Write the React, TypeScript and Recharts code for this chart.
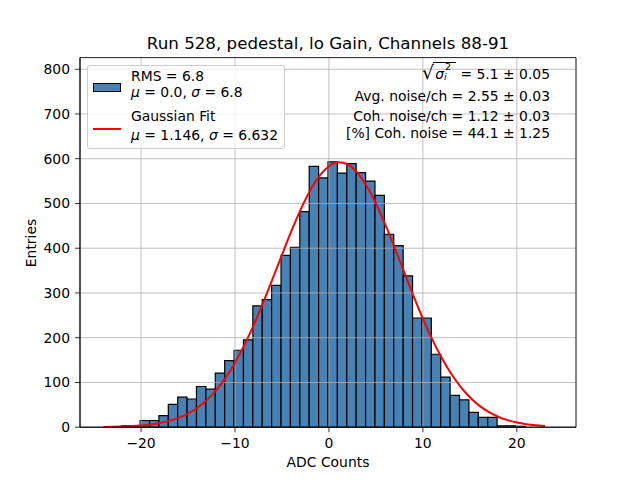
import React from 'react';
import { ComposedChart, XAxis, YAxis, CartesianGrid, Line, ReferenceArea } from 'recharts';

// histogram bins (left edge, width 1) and entries per bin
const binLeft = [
  -22.1, -21.1, -20.1, -19.1, -18.1, -17.1, -16.1, -15.1, -14.1, -13.1, -12.1, -11.1,
  -10.1, -9.1, -8.1, -7.1, -6.1, -5.1, -4.1, -3.1, -2.1, -1.1, -0.1, 0.9,
  1.9, 2.9, 3.9, 4.9, 5.9, 6.9, 7.9, 8.9, 9.9, 10.9, 11.9, 12.9,
  13.9, 14.9, 15.9, 16.9, 17.9, 18.9, 19.9, 20.9, 21.9, 22.9,
];
const binWidth = 1;
const binCounts = [
  3, 3, 15, 15, 26, 51, 67, 63, 91, 85, 121, 149,
  172, 195, 271, 285, 317, 384, 402, 482, 583, 557, 593, 568,
  589, 569, 550, 518, 431, 406, 338, 244, 244, 163, 112, 71,
  61, 33, 22, 22, 3, 3, 2, 0, 0, 0,
];

// gaussian fit curve
const fitX = [
  -24, -23, -22, -21, -20, -19, -18, -17, -16, -15, -14, -13, -12, -11, -10, -9,
  -8, -7, -6, -5, -4, -3, -2, -1, 0, 1, 2, 3, 4, 5, 6, 7,
  8, 9, 10, 11, 12, 13, 14, 15, 16, 17, 18, 19, 20, 21, 22, 23,
];
const fitY = [
  0.5, 0.8, 1.3, 2.2, 3.7, 5.9, 9.2, 14, 20.9, 30.6, 43.6, 60.9, 83, 110.7, 144.3, 183.8,
  228.7, 278.4, 331.3, 385.3, 438.1, 486.9, 529, 561.8, 583.2, 591.9, 587.1, 569.3, 539.7, 500, 452.9, 401,
  347, 293.6, 242.8, 196.3, 155.2, 119.9, 90.5, 66.8, 48.2, 34, 23.4, 15.8, 10.4, 6.7, 4.2, 2.6,
];

const xTicks = [-20, -10, 0, 10, 20];
const yTicks = [0, 100, 200, 300, 400, 500, 600, 700, 800];
const xDomain: [number, number] = [-26.5, 26.3];
const yDomain: [number, number] = [0, 826];

const title = 'Run 528, pedestal, lo Gain, Channels 88-91';
const statLines = [
  'Avg. noise/ch = 2.55 \u00b1 0.03',
  'Coh. noise/ch = 1.12 \u00b1 0.03',
  '[%] Coh. noise = 44.1 \u00b1 1.25',
];

const FONT = '"DejaVu Sans", sans-serif';
const BLUE = '#4682b4';
const FS = 13.9;

const fitData = fitX.map((x, i) => ({ x, y: fitY[i] }));
const fmt = (v: number) => String(v).replace('-', '\u2212');

const tickStyle = { fill: '#000', fontSize: FS, fontFamily: FONT };

const abs = (left: number, top: number, extra: React.CSSProperties = {}): React.CSSProperties => ({
  position: 'absolute', left, top, lineHeight: '16px', fontSize: FS, whiteSpace: 'nowrap', ...extra,
});

const rightLine = (top: number): React.CSSProperties => ({
  position: 'absolute', right: 90, top, lineHeight: '16px', fontSize: FS, whiteSpace: 'nowrap',
});

const App: React.FC = () => {
  return (
    <div style={{ position: 'absolute', left: 0, top: 0, width: 640, height: 480, background: '#fff', fontFamily: FONT, color: '#000' }}>
      <ComposedChart width={640} height={480} data={fitData} margin={{ top: 57.6, right: 64, bottom: 0, left: 0 }}>
        {binLeft.map((lo, i) => (
          <ReferenceArea
            key={i}
            x1={lo}
            x2={lo + binWidth}
            y1={0}
            y2={binCounts[i]}
            fill={BLUE}
            fillOpacity={1}
            stroke="#000"
            strokeWidth={1.2}
            ifOverflow="visible"
            zIndex={300}
          />
        ))}
        <CartesianGrid stroke="#b0b0b0" strokeWidth={0.8} zIndex={350} />
        <XAxis
          type="number"
          dataKey="x"
          domain={xDomain}
          ticks={xTicks}
          allowDataOverflow
          height={52.8}
          tickFormatter={fmt}
          tick={tickStyle}
          tickSize={5}
          tickMargin={6}
          stroke="#000"
          strokeWidth={0.8}
        />
        <YAxis
          type="number"
          domain={yDomain}
          ticks={yTicks}
          allowDataOverflow
          width={80}
          tick={tickStyle}
          tickSize={5}
          tickMargin={5}
          stroke="#000"
          strokeWidth={0.8}
        />
        <Line
          type="monotone"
          dataKey="y"
          stroke="#ff0000"
          strokeWidth={2}
          dot={false}
          activeDot={false}
          isAnimationActive={false}
          zIndex={400}
        />
        <ReferenceArea
          x1={xDomain[0]}
          x2={xDomain[1]}
          y1={yDomain[0]}
          y2={yDomain[1]}
          fill="none"
          stroke="#000"
          strokeWidth={0.8}
          ifOverflow="visible"
          zIndex={500}
        />
      </ComposedChart>

      {/* title and axis labels */}
      <div style={{ position: 'absolute', left: 80, width: 496, top: 33.2, lineHeight: '20px', fontSize: 16.7, textAlign: 'center' }}>
        {title}
      </div>
      <div style={{ position: 'absolute', left: 80, width: 496, top: 454, lineHeight: '16px', fontSize: FS, textAlign: 'center' }}>
        ADC Counts
      </div>
      <div style={{ position: 'absolute', left: 31.2 - 50, top: 243 - 8, width: 100, height: 16, lineHeight: '16px', fontSize: FS, textAlign: 'center', transform: 'rotate(-90deg)' }}>
        Entries
      </div>

      {/* legend */}
      <div style={{ position: 'absolute', left: 87, top: 65, width: 198, height: 84, boxSizing: 'border-box', border: '1px solid #cccccc', borderRadius: 3, background: 'rgba(255,255,255,0.8)' }}>
        <div style={{ position: 'absolute', left: 5, top: 17.3, width: 28, height: 9, boxSizing: 'border-box', background: BLUE, border: '1.2px solid #000' }} />
        <div style={{ position: 'absolute', left: 5, top: 61.7, width: 28, height: 2, background: '#ff0000' }} />
        <div style={abs(43, 2.2)}>RMS = 6.8</div>
        <div style={abs(43, 17.9)}><i>μ</i> = 0.0, <i>σ</i> = 6.8</div>
        <div style={abs(43, 42.2)}>Gaussian Fit</div>
        <div style={abs(43, 60.5)}><i>μ</i> = 1.146, <i>σ</i> = 6.632</div>
      </div>

      {/* noise summary, right aligned */}
      <div style={rightLine(63.9)}>
        <span style={{ fontSize: 19, lineHeight: '16px', position: 'relative', top: 0 }}>√</span>
        <span style={{ display: 'inline-block', position: 'relative', lineHeight: '16px', paddingLeft: 1, paddingRight: 5 }}>
          <span style={{ position: 'absolute', left: -1, right: 0, top: -4, height: 0, borderTop: '1px solid #000' }} />
          <i>σ</i>
          <span style={{ display: 'inline-block', position: 'relative', width: 7, height: 10 }}>
            <span style={{ position: 'absolute', left: 1, top: -7, fontSize: 9.5, lineHeight: '9px' }}>2</span>
            <span style={{ position: 'absolute', left: 0, top: 3, fontSize: 9.5, lineHeight: '9px', fontStyle: 'italic' }}>i</span>
          </span>
        </span>
        {' = 5.1 \u00b1 0.05'}
      </div>
      <div style={rightLine(87.9)}>{statLines[0]}</div>
      <div style={rightLine(107.9)}>{statLines[1]}</div>
      <div style={rightLine(124.9)}>{statLines[2]}</div>
    </div>
  );
};

export default App;
